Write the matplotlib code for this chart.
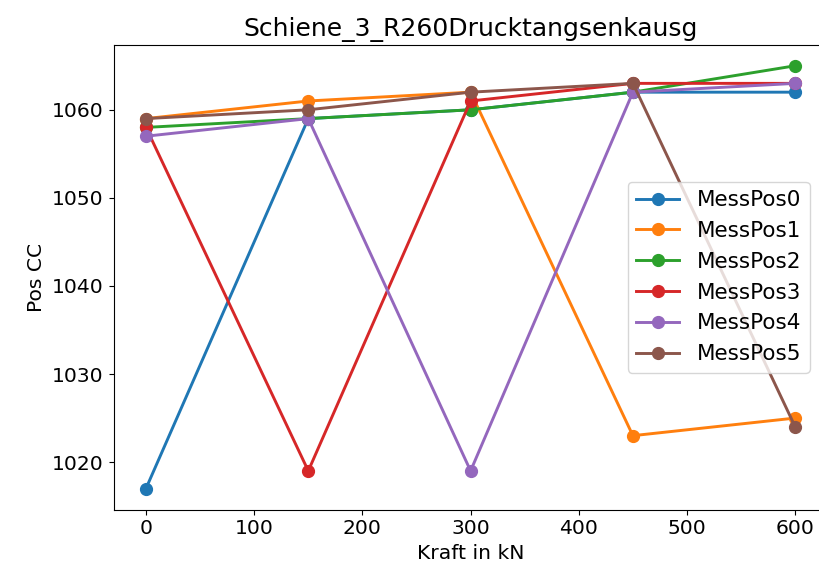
import matplotlib.pyplot as plt
import numpy as np

kraft = [0, 150, 300, 450, 600]
mess_pos = {
    'MessPos0': [1017, 1059, 1060, 1062, 1062],
    'MessPos1': [1059, 1061, 1062, 1023, 1025],
    'MessPos2': [1058, 1059, 1060, 1062, 1065],
    'MessPos3': [1058, 1019, 1061, 1063, 1063],
    'MessPos4': [1057, 1059, 1019, 1062, 1063],
    'MessPos5': [1059, 1060, 1062, 1063, 1024],
}

plt.rcParams['font.size'] = 14.6
fig = plt.figure(figsize=(8.19, 5.72), dpi=100)
# axes run slightly past the right edge of the canvas
ax = fig.add_axes([0.1386, 0.109, 0.872, 0.813])
for name, vals in mess_pos.items():
    ax.plot(kraft, vals, 'o-', label=name, lw=2.1, ms=8.5)

ax.set_title('Schiene_3_R260Drucktangsenkausg', fontsize=18)
ax.set_xlabel('Kraft in kN')
ax.set_ylabel('Pos CC')
ax.legend(loc='center right', fontsize=15.5, bbox_to_anchor=(0.99, 0.5))
fig.savefig('out.png')
